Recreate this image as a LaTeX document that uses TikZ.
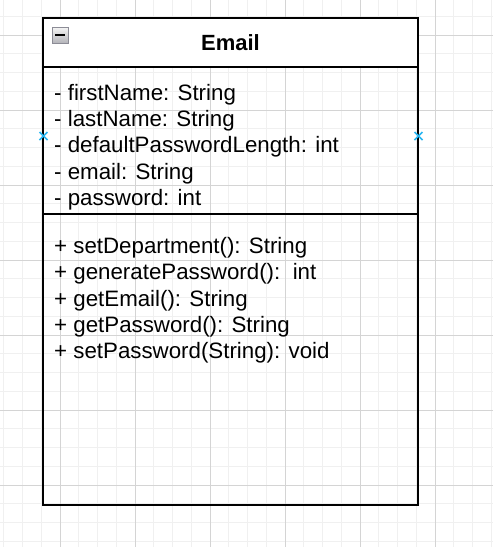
\documentclass[tikz,border=0pt]{standalone}
\usepackage{fontspec}
\setmainfont{Liberation Sans}
\usetikzlibrary{calc}
\begin{document}
\begin{tikzpicture}[x=1pt,y=-1pt,
  member/.style={anchor=base west,inner sep=0pt,font=\fontsize{22.3}{26.4}\selectfont},
  classtitle/.style={anchor=base,inner sep=0pt,font=\fontsize{22}{26.4}\selectfont\bfseries},
  boxline/.style={line width=2pt,draw=black},
  minorgrid/.style={draw={rgb,255:red,240;green,240;blue,240},line width=0.8pt},
  majorgrid/.style={draw={rgb,255:red,212;green,212;blue,212},line width=1pt},
  cpoint/.style={draw={rgb,255:red,41;green,182;blue,242},line width=1.6pt}]
\useasboundingbox (0,0) rectangle (493,547);
\fill[white] (0,0) rectangle (493,547);
% grid
\foreach \i in {0,...,26} {
  \draw[minorgrid] ({3.75+18.75*\i},0) -- ({3.75+18.75*\i},547);
}
\foreach \i in {0,...,29} {
  \draw[minorgrid] (0,{-2.5+18.75*\i}) -- (493,{-2.5+18.75*\i});
}
\foreach \i in {0,...,6} {
  \draw[majorgrid] ({60+75*\i},0) -- ({60+75*\i},547);
}
\foreach \i in {0,...,7} {
  \draw[majorgrid] (0,{35+75*\i}) -- (493,{35+75*\i});
}
% class box
\fill[white] (43,18) rectangle (418,66.5);
\node[draw=none,inner sep=0pt,minimum width=375pt,minimum height=487pt] (cls) at (230.5,261.5) {};
\draw[boxline] (43,18) rectangle (418,505);
\draw[boxline] (43,66.5) -- (418,66.5);
\draw[boxline] (43,213.5) -- (418,213.5);
% collapse icon
\node[inner sep=0pt,minimum size=16pt,draw={rgb,255:red,140;green,140;blue,150},line width=1pt,
  top color={rgb,255:red,245;green,245;blue,245},bottom color={rgb,255:red,180;green,180;blue,185}] (icon) at (60,35) {};
\draw[line width=2pt] ($(icon.center)+(-5,0)$) -- ($(icon.center)+(5,0)$);
% title
\node[classtitle] (title) at (230.5,50.5) {Email};
% attributes
\node[member] (a1) at (54,100) {- firstName: String};
\node[member] (a2) at (54,126.4) {- lastName: String};
\node[member] (a3) at (54,152.8) {- defaultPasswordLength: int};
\node[member] (a4) at (54,179.2) {- email: String};
\node[member] (a5) at (54,205.6) {- password: int};
% methods
\node[member] (m1) at (54,253.2) {+ setDepartment(): String};
\node[member] (m2) at (54,279.6) {+ generatePassword():~~int};
\node[member] (m3) at (54,306) {+ getEmail(): String};
\node[member] (m4) at (54,332.4) {+ getPassword(): String};
\node[member] (m5) at (54,358.8) {+ setPassword(String): void};
% connection points
\coordinate (cpl) at (43.5,136);
\coordinate (cpr) at (418.5,136);
\foreach \c in {cpl,cpr} {
  \draw[cpoint] ($(\c)+(-4,-4)$) -- ($(\c)+(4,4)$);
  \draw[cpoint] ($(\c)+(-4,4)$) -- ($(\c)+(4,-4)$);
}
\end{tikzpicture}
\end{document}
